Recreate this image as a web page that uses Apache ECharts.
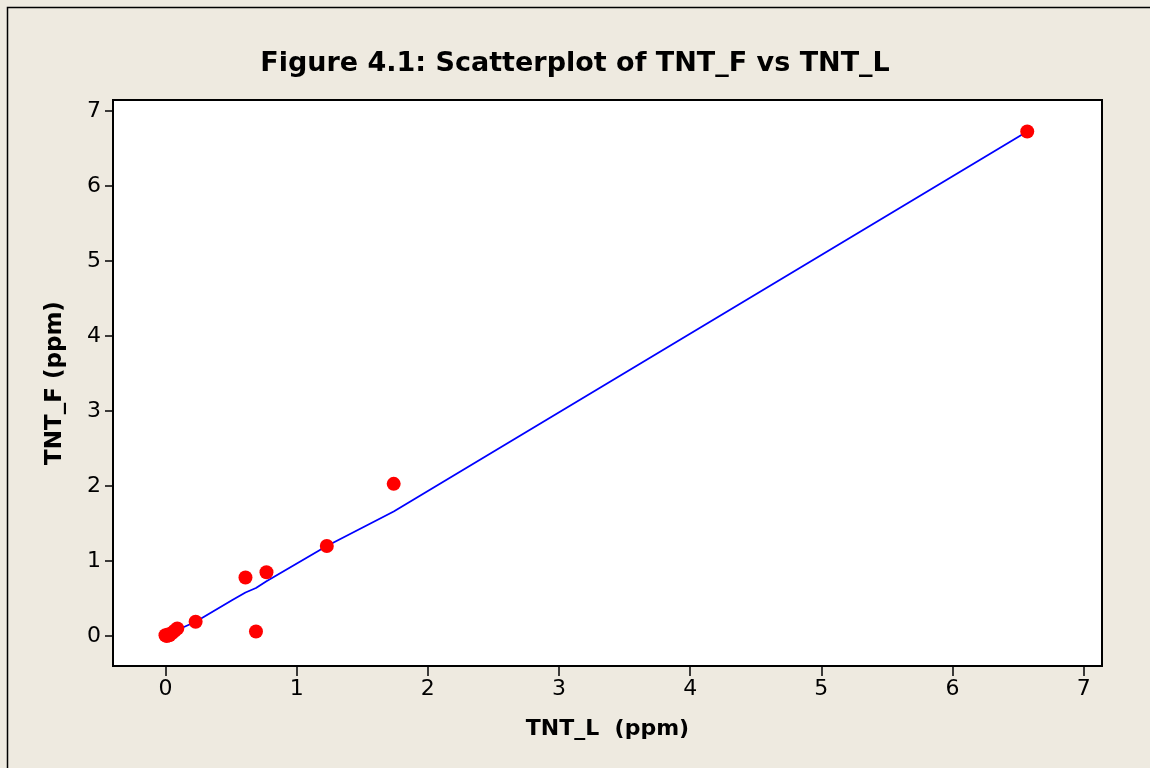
<!DOCTYPE html>
<html>
<head>
<meta charset="utf-8">
<title>Figure 4.1</title>
<script src="https://cdn.jsdelivr.net/npm/echarts@6/dist/echarts.min.js"></script>
<style>
  html, body { margin: 0; padding: 0; background: #eeeae0; }
  #chart { width: 1150px; height: 768px; }
</style>
</head>
<body>
<div id="chart"></div>
<script>
// observed points (TNT_L, TNT_F)
const tntL = [0.00, 0.01, 0.02, 0.03, 0.05, 0.07, 0.09, 0.23, 0.61, 0.69, 0.77, 1.23, 1.74, 6.57]
const tntF = [0.01, 0.00, 0.02, 0.01, 0.04, 0.07, 0.10, 0.19, 0.78, 0.06, 0.85, 1.20, 2.03, 6.73]

// smoother through the points
const fitX = [0.00, 0.09, 0.23, 0.51, 0.61, 0.69, 0.77, 1.23, 1.74, 6.57]
const fitY = [0.00, 0.08, 0.19, 0.48, 0.58, 0.64, 0.73, 1.20, 1.66, 6.73]

const xTicks = [0, 1, 2, 3, 4, 5, 6, 7]
const yTicks = [0, 1, 2, 3, 4, 5, 6, 7]

const chart = echarts.init(document.getElementById('chart'))

const font = 'DejaVu Sans'

const option = {
  backgroundColor: '#eeeae0',
  animation: false,
  graphic: [
    {
      type: 'rect',
      shape: { x: 7.5, y: 7.5, width: 1300, height: 900 },
      style: { fill: 'none', stroke: '#000', lineWidth: 1.5 },
      silent: true
    }
  ],
  title: {
    text: 'Figure 4.1: Scatterplot of TNT_F vs TNT_L',
    left: 'center',
    top: 45,
    textStyle: { fontFamily: font, fontSize: 27, fontWeight: 'bold', color: '#000' }
  },
  grid: {
    left: 113,
    right: 48,
    top: 100,
    bottom: 102,
    show: true,
    backgroundColor: '#fff',
    borderColor: '#000',
    borderWidth: 2
  },
  xAxis: {
    type: 'value',
    min: -0.4,
    max: 7.14,
    name: 'TNT_L  (ppm)',
    nameLocation: 'middle',
    nameGap: 52,
    nameTextStyle: { fontFamily: font, fontSize: 22, fontWeight: 'bold', color: '#000' },
    splitLine: { show: false },
    axisLine: { onZero: false, lineStyle: { color: '#000', width: 2 } },
    axisTick: { customValues: xTicks, length: 10, lineStyle: { color: '#000', width: 1.5 } },
    axisLabel: { customValues: xTicks, margin: 12, fontFamily: font, fontSize: 22, color: '#000' }
  },
  yAxis: {
    type: 'value',
    min: -0.4,
    max: 7.15,
    name: 'TNT_F (ppm)',
    nameLocation: 'middle',
    nameGap: 46,
    nameTextStyle: { fontFamily: font, fontSize: 23, fontWeight: 'bold', color: '#000' },
    splitLine: { show: false },
    axisLine: { onZero: false, lineStyle: { color: '#000', width: 2 } },
    axisTick: { customValues: yTicks, length: 8, lineStyle: { color: '#000', width: 1.5 } },
    axisLabel: { customValues: yTicks, margin: 12, fontFamily: font, fontSize: 22, color: '#000' }
  },
  series: [
    {
      name: 'Fit',
      type: 'line',
      data: fitX.map((x, i) => [x, fitY[i]]),
      showSymbol: false,
      lineStyle: { color: '#0000ff', width: 1.8 },
      z: 2
    },
    {
      name: 'TNT',
      type: 'scatter',
      data: tntL.map((x, i) => [x, tntF[i]]),
      symbolSize: 14,
      itemStyle: { color: '#ff0000', opacity: 1 },
      z: 3
    }
  ]
}

chart.setOption(option)
</script>
</body>
</html>
